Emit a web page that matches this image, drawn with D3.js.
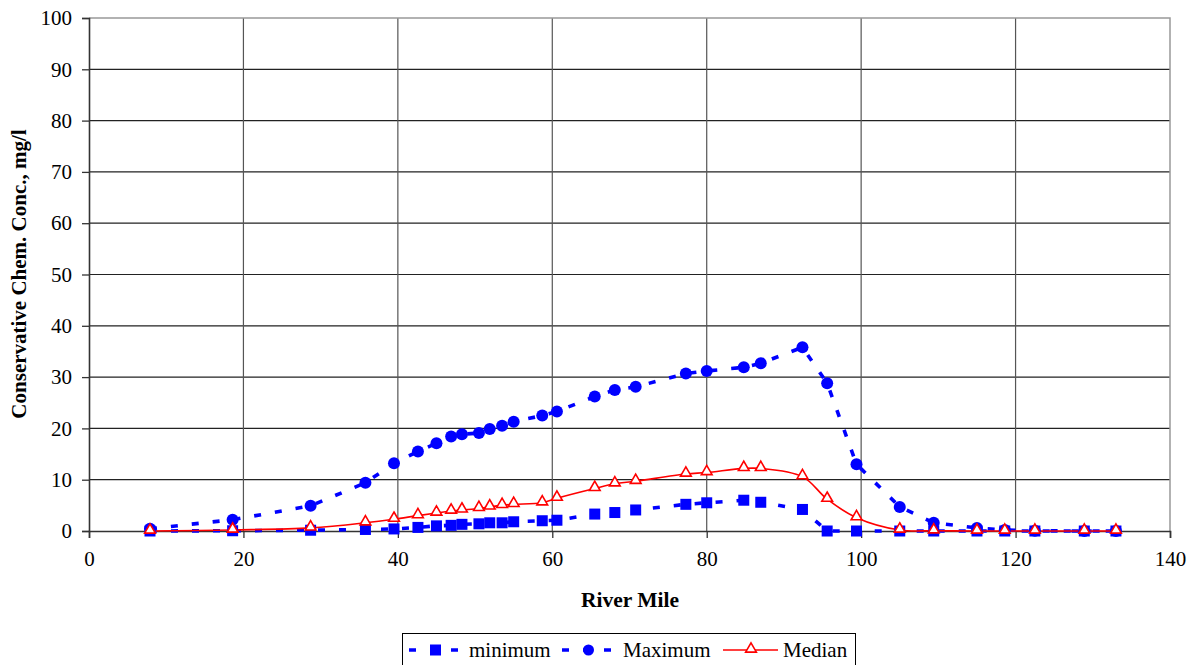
<!DOCTYPE html>
<html>
<head>
<meta charset="utf-8">
<script src="https://cdn.jsdelivr.net/npm/d3@7"></script>
<style>
  html, body { margin: 0; padding: 0; background: #fff; }
  svg { display: block; }
  text { font-family: "Liberation Serif", "Times New Roman", serif; fill: #000; }
</style>
</head>
<body>
<svg id="chart" width="1202" height="665"></svg>
<script>
// River mile stations shared by all three series
const riverMile = [7.9, 18.6, 28.7, 35.8, 39.5, 42.6, 45.0, 46.9, 48.3, 50.5, 51.9, 53.5, 55.0,
  58.7, 60.6, 65.5, 68.1, 70.8, 77.3, 80.0, 84.8, 87.0, 92.4, 95.6, 99.4, 105.0, 109.4,
  115.0, 118.6, 122.5, 128.9, 133.0];

const minimum = [0, 0.05, 0.15, 0.3, 0.4, 0.7, 1.0, 1.1, 1.3, 1.4, 1.6, 1.6, 1.8,
  2.0, 2.1, 3.3, 3.6, 4.1, 5.2, 5.5, 6.0, 5.6, 4.2, 0, 0, 0, 0,
  0, 0, 0, 0, 0];

const maximum = [0.45, 2.2, 4.9, 9.4, 13.2, 15.5, 17.1, 18.4, 18.85, 19.1, 19.9, 20.5, 21.3,
  22.5, 23.3, 26.2, 27.5, 28.1, 30.7, 31.2, 31.9, 32.7, 35.8, 28.8, 13.0, 4.7, 1.6,
  0.6, 0.2, 0.05, 0, 0];

const median = [0, 0.2, 0.6, 1.6, 2.3, 3.0, 3.5, 3.9, 4.1, 4.4, 4.7, 5.0, 5.2,
  5.5, 6.4, 8.3, 9.2, 9.7, 11.1, 11.4, 12.2, 12.2, 10.6, 6.2, 2.6, 0.2, 0.05,
  0, 0, 0, 0, 0];

const xTicks = [0, 20, 40, 60, 80, 100, 120, 140];
const yTicks = [0, 10, 20, 30, 40, 50, 60, 70, 80, 90, 100];

const svg = d3.select("#chart");
const plotL = 89, plotR = 1170, plotT = 18, plotB = 531;

const x = d3.scaleLinear().domain([0, 140]).range([plotL, plotR]);
const y = d3.scaleLinear().domain([0, 100]).range([plotB, plotT]);

const BLUE = "#0000ff", RED = "#ff0000";
const SERIF = "'Liberation Serif', 'Times New Roman', serif";

// grid
const grid = svg.append("g");
grid.selectAll("line.h").data(yTicks.filter(d => d > 0 && d < 100)).join("line")
  .attr("x1", plotL).attr("x2", plotR)
  .attr("y1", d => y(d)).attr("y2", d => y(d))
  .attr("stroke", "#222").attr("stroke-width", 1.2);
grid.selectAll("line.v").data(xTicks.filter(d => d > 0 && d < 140)).join("line")
  .attr("y1", plotT).attr("y2", plotB)
  .attr("x1", d => x(d)).attr("x2", d => x(d))
  .attr("stroke", "#555").attr("stroke-width", 1.2);

// plot border (top and right)
svg.append("path")
  .attr("d", `M${plotL},${plotT}H${plotR}V${plotB}`)
  .attr("fill", "none").attr("stroke", "#999").attr("stroke-width", 1.5);

// axes
const yAxis = svg.append("g").attr("transform", `translate(${plotL},0)`)
  .call(d3.axisLeft(y).tickValues(yTicks).tickSize(7).tickPadding(10));
const xAxis = svg.append("g").attr("transform", `translate(0,${plotB})`)
  .call(d3.axisBottom(x).tickValues(xTicks).tickSize(7).tickPadding(13));
[yAxis, xAxis].forEach(a => {
  a.attr("font-family", SERIF).attr("font-size", 21);
  a.select(".domain").attr("stroke", "#333").attr("stroke-width", 1.6);
  a.selectAll(".tick line").attr("stroke", "#333").attr("stroke-width", 1.3);
  a.selectAll(".tick text").style("font-family", SERIF)
    .style("font-size", "21px").attr("fill", "#000");
});

// axis titles
svg.append("text").attr("x", 630).attr("y", 607).attr("text-anchor", "middle")
  .style("font-family", SERIF)
  .style("font-size", "21.5px").style("font-weight", "bold").text("River Mile");
svg.append("text").attr("transform", "translate(26,274) rotate(-90)")
  .attr("text-anchor", "middle")
  .style("font-family", SERIF)
  .style("font-size", "21px").style("font-weight", "bold")
  .text("Conservative Chem. Conc., mg/l");

const pts = vals => riverMile.map((m, i) => [m, vals[i]]);

const straight = d3.line().x(d => x(d[0])).y(d => y(d[1]));
const smooth = d3.line().x(d => x(d[0])).y(d => y(d[1])).curve(d3.curveCatmullRom.alpha(0.5));

const DASH = "7,14";

// minimum
svg.append("path").datum(pts(minimum)).attr("d", straight)
  .attr("fill", "none").attr("stroke", BLUE).attr("stroke-width", 3.6)
  .attr("stroke-dasharray", DASH);
// maximum
svg.append("path").datum(pts(maximum)).attr("d", straight)
  .attr("fill", "none").attr("stroke", BLUE).attr("stroke-width", 3.6)
  .attr("stroke-dasharray", DASH);
// median
svg.append("path").datum(pts(median)).attr("d", smooth)
  .attr("fill", "none").attr("stroke", RED).attr("stroke-width", 1.6);

const sq = 11, cr = 6;
const tri = d3.symbol().type(d3.symbolTriangle).size(50);

svg.append("g").selectAll("rect").data(pts(minimum)).join("rect")
  .attr("x", d => x(d[0]) - sq / 2).attr("y", d => y(d[1]) - sq / 2)
  .attr("width", sq).attr("height", sq).attr("fill", BLUE);
svg.append("g").selectAll("circle").data(pts(maximum)).join("circle")
  .attr("cx", d => x(d[0])).attr("cy", d => y(d[1])).attr("r", cr).attr("fill", BLUE);
svg.append("g").selectAll("path").data(pts(median)).join("path")
  .attr("d", tri)
  .attr("transform", d => `translate(${x(d[0])},${y(d[1]) - 1})`)
  .attr("fill", "#fff").attr("stroke", RED).attr("stroke-width", 1.6);

// legend
const lg = svg.append("g");
lg.append("rect").attr("x", 402.5).attr("y", 633.5).attr("width", 453).attr("height", 34)
  .attr("fill", "#fff").attr("stroke", "#000").attr("stroke-width", 1);
const ly = 650;
const legendItems = [
  { label: "minimum", x0: 409, tx: 469, kind: "square" },
  { label: "Maximum", x0: 562, tx: 623, kind: "circle" },
  { label: "Median", x0: 723, tx: 783, kind: "triangle" }
];
legendItems.forEach(it => {
  const x1 = it.x0 + 49, cx = (it.x0 + x1) / 2;
  if (it.kind === "triangle") {
    lg.append("line").attr("x1", it.x0).attr("x2", it.x0 + 55).attr("y1", ly).attr("y2", ly)
      .attr("stroke", RED).attr("stroke-width", 1.6);
    lg.append("path").attr("d", tri).attr("transform", `translate(${it.x0 + 28},${ly - 1})`)
      .attr("fill", "#fff").attr("stroke", RED).attr("stroke-width", 1.6);
  } else {
    lg.append("line").attr("x1", it.x0).attr("x2", x1).attr("y1", ly).attr("y2", ly)
      .attr("stroke", BLUE).attr("stroke-width", 3.6).attr("stroke-dasharray", DASH);
    if (it.kind === "square") {
      lg.append("rect").attr("x", cx - sq / 2 + 2).attr("y", ly - sq / 2)
        .attr("width", sq).attr("height", sq).attr("fill", BLUE);
    } else {
      lg.append("circle").attr("cx", cx + 2).attr("cy", ly).attr("r", 5.5).attr("fill", BLUE);
    }
  }
  lg.append("text").attr("x", it.tx).attr("y", ly + 7)
    .style("font-family", SERIF).style("font-size", "21px").text(it.label);
});
</script>
</body>
</html>
